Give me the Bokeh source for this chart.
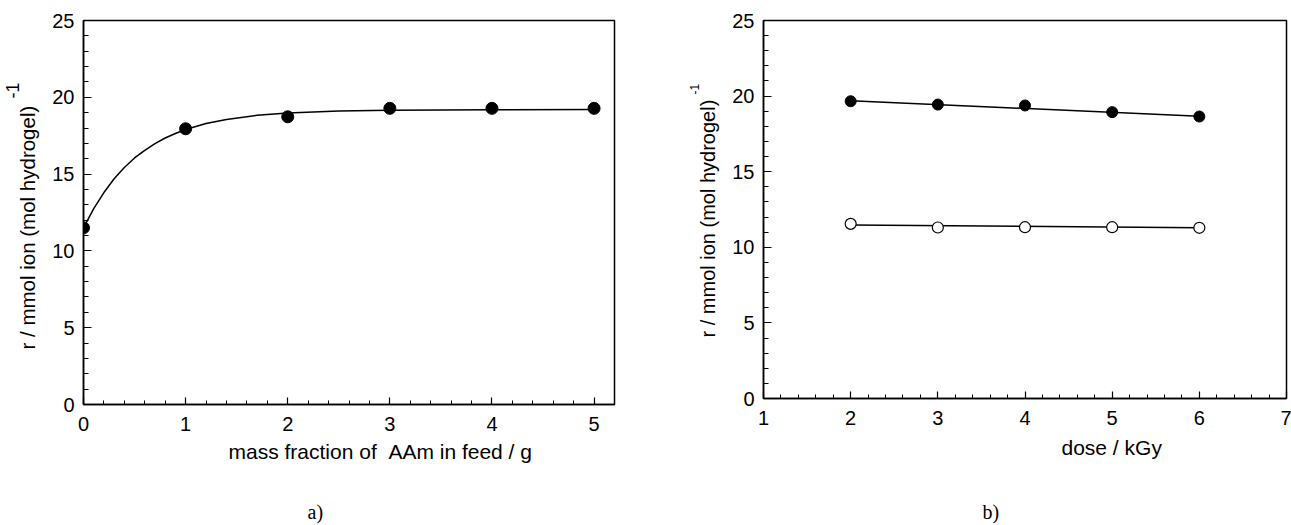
from bokeh.plotting import figure
from bokeh.layouts import row
from bokeh.models import SingleIntervalTicker, Range1d, Title
from bokeh.embed import file_html
from bokeh.resources import INLINE

# ---------------- data ----------------
# panel a) uptake vs mass fraction of AAm in feed
mass_aam = [0, 1, 2, 3, 4, 5]
r_mass = [11.5, 17.95, 18.73, 19.28, 19.28, 19.28]
# fitted curve
fit_mass_x = [0, 0.1, 0.2, 0.3, 0.4, 0.5, 0.6, 0.7, 0.8, 0.9, 1.0, 1.2, 1.4, 1.7, 2.0, 2.5, 3.0, 4.0, 5.0]
fit_mass_y = [11.5, 12.75, 13.8, 14.7, 15.43, 16.05, 16.55, 16.98, 17.35, 17.64, 17.9, 18.29,
              18.56, 18.83, 18.98, 19.1, 19.16, 19.19, 19.2]

# panel b) uptake vs dose
dose = [2, 3, 4, 5, 6]
r_dose_filled = [19.66, 19.44, 19.38, 18.94, 18.65]
r_dose_open = [11.55, 11.31, 11.33, 11.33, 11.29]
fit_dose_x = [2, 6]
fit_dose_filled = [19.7, 18.66]
fit_dose_open = [11.47, 11.3]

FONT = "Liberation Sans"
SERIF = "Liberation Serif"


def make_fig(xr, fw, fh, bl, bt, br, bb):
    p = figure(frame_width=fw, frame_height=fh,
               x_range=Range1d(*xr), y_range=Range1d(0, 25),
               output_backend="svg", toolbar_location=None,
               min_border_left=bl, min_border_top=bt,
               min_border_right=br, min_border_bottom=bb,
               background_fill_color="white", border_fill_color="white")
    p.grid.visible = False
    p.outline_line_color = "black"
    p.outline_line_width = 1.5
    p.outline_line_alpha = 1.0
    p.xaxis.ticker = SingleIntervalTicker(interval=1, num_minor_ticks=5)
    p.yaxis.ticker = SingleIntervalTicker(interval=5, num_minor_ticks=5)
    for ax in (p.xaxis[0], p.yaxis[0]):
        ax.axis_line_color = "black"
        ax.axis_line_width = 1.5
        ax.major_tick_line_color = "black"
        ax.minor_tick_line_color = "black"
        ax.major_tick_line_width = 1.2
        ax.minor_tick_line_width = 1.0
        ax.major_tick_out = 0
        ax.minor_tick_out = 0
        ax.major_label_text_font = FONT
        ax.major_label_text_font_size = "20px"
        ax.major_label_text_color = "black"
    p.xaxis.major_tick_in = 7
    p.xaxis.minor_tick_in = 4
    p.yaxis.major_tick_in = 8
    p.yaxis.minor_tick_in = 5
    p.xaxis.major_label_standoff = 12
    p.yaxis.major_label_standoff = 9
    return p


def add_title(p, side, text, size, offset, standoff, font=FONT, align="left"):
    p.add_layout(Title(text=text, align=align, offset=offset, standoff=standoff,
                       text_font=font, text_font_size=f"{size}px",
                       text_font_style="normal", text_color="black"), side)


# ---------------- panel a ----------------
pa = make_fig((0, 5.2), fw=531, fh=384, bl=83, bt=18, br=34, bb=123)
pa.line(fit_mass_x, fit_mass_y, line_color="black", line_width=1.5)
pa.scatter(mass_aam, r_mass, marker="circle", size=12,
           fill_color="black", line_color="black")

add_title(pa, "below", "mass fraction of \u00a0AAm in feed / g", 21, offset=145, standoff=8)
add_title(pa, "below", "a)", 20, offset=224, standoff=64, font=SERIF)
add_title(pa, "left", "r / mmol ion (mol hydrogel)", 20.5, offset=55, standoff=22)
add_title(pa, "left", "-1", 18, offset=306, standoff=-33)

# ---------------- panel b ----------------
pb = make_fig((1, 7), fw=523, fh=378, bl=115, bt=20, br=5, bb=127)
pb.line(fit_dose_x, fit_dose_filled, line_color="black", line_width=1.5)
pb.line(fit_dose_x, fit_dose_open, line_color="black", line_width=1.5)
pb.scatter(dose, r_dose_filled, marker="circle", size=11,
           fill_color="black", line_color="black")
pb.scatter(dose, r_dose_open, marker="circle", size=11,
           fill_color="white", line_color="black", line_width=1.2)

add_title(pb, "below", "dose / kGy", 21, offset=298, standoff=13)
add_title(pb, "below", "b)", 20, offset=219, standoff=66, font=SERIF)
add_title(pb, "left", "r / mmol ion (mol hydrogel)", 20, offset=61, standoff=22)
add_title(pb, "left", "-1", 12, offset=304, standoff=-30)

layout = row(pa, pb)
open("out.html", "w").write(file_html(layout, INLINE))
